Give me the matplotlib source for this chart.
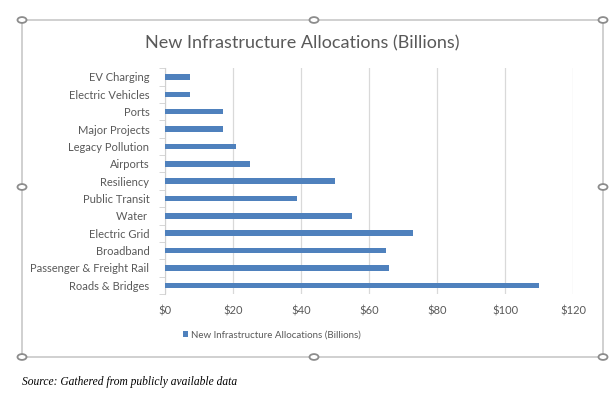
import matplotlib.pyplot as plt
from matplotlib.patches import Rectangle, Circle

# data (billions of dollars), top to bottom as shown
categories = ["EV Charging", "Electric Vehicles", "Ports", "Major Projects",
              "Legacy Pollution", "Airports", "Resiliency", "Public Transit",
              "Water ", "Electric Grid", "Broadband",
              "Passenger & Freight Rail", "Roads & Bridges"]
values = [7.5, 7.5, 17, 17, 21, 25, 50, 39, 55, 73, 65, 66, 110]
x_ticks = [0, 20, 40, 60, 80, 100, 120]
x_labels = ["$0", "$20", "$40", "$60", "$80", "$100", "$120"]
series_name = "New Infrastructure Allocations (Billions)"

W, H = 610, 395
fig = plt.figure(figsize=(W / 100, H / 100), dpi=100)
txt = "#595959"

def fx(px):
    return px / W

def fy(py):
    return 1 - py / H

# chart frame + selection handles
fig.patches.append(Rectangle((fx(22), fy(357)), fx(603) - fx(22), fy(20) - fy(357),
                             transform=fig.transFigure, fill=False,
                             edgecolor="#c8c8c8", linewidth=1.2))
for hx, hy in [(22, 20), (314, 20), (603, 20), (22, 187), (603, 187),
               (22, 357), (314, 357), (603, 357)]:
    fig.patches.append(Circle((fx(hx), fy(hy)), 4.5 / W, transform=fig.transFigure,
                              facecolor="white", edgecolor="#8c8c8c", linewidth=1.3,
                              zorder=5))

ax = fig.add_axes([fx(164.7), fy(294), fx(573.3) - fx(164.7), fy(68.3) - fy(294)])
pos = list(range(len(categories)))
ax.barh(pos, values, height=0.32, color="#4F81BD", label=series_name, zorder=3)
ax.set_ylim(len(categories) - 0.5, -0.5)
ax.set_xlim(0, 120)

ax.set_yticks(pos)
ax.set_yticklabels(categories, fontsize=8, color=txt, fontfamily="Lato")
ax.set_yticks([p - 0.5 for p in pos] + [len(pos) - 0.5], minor=True)
ax.tick_params(axis="y", which="major", length=0, pad=11)
ax.tick_params(axis="y", which="minor", length=4, color="#d0d0d0", direction="out")

ax.set_xticks(x_ticks)
ax.set_xticklabels(x_labels, fontsize=8, color=txt, fontfamily="Lato")
ax.tick_params(axis="x", length=0, pad=8)
ax.grid(axis="x", color="#d9d9d9", linewidth=0.9, zorder=0)

for s in ["top", "right", "bottom"]:
    ax.spines[s].set_visible(False)
ax.spines["left"].set_color("#d0d0d0")

fig.text(fx(302), fy(43), series_name, ha="center", va="center",
         fontsize=13, color=txt, fontfamily="Lato")

fig.legend(loc="center", bbox_to_anchor=(fx(272), fy(335)), frameon=False,
           prop={"family": "Lato", "size": 7}, labelcolor=txt,
           handlelength=0.5, handleheight=0.5, handletextpad=0.4)

fig.text(fx(22), fy(382), "Source: Gathered from publicly available data",
         ha="left", va="center", fontsize=8.3, style="italic",
         fontfamily="Liberation Serif", color="black")

fig.savefig("out.png", dpi=100)
